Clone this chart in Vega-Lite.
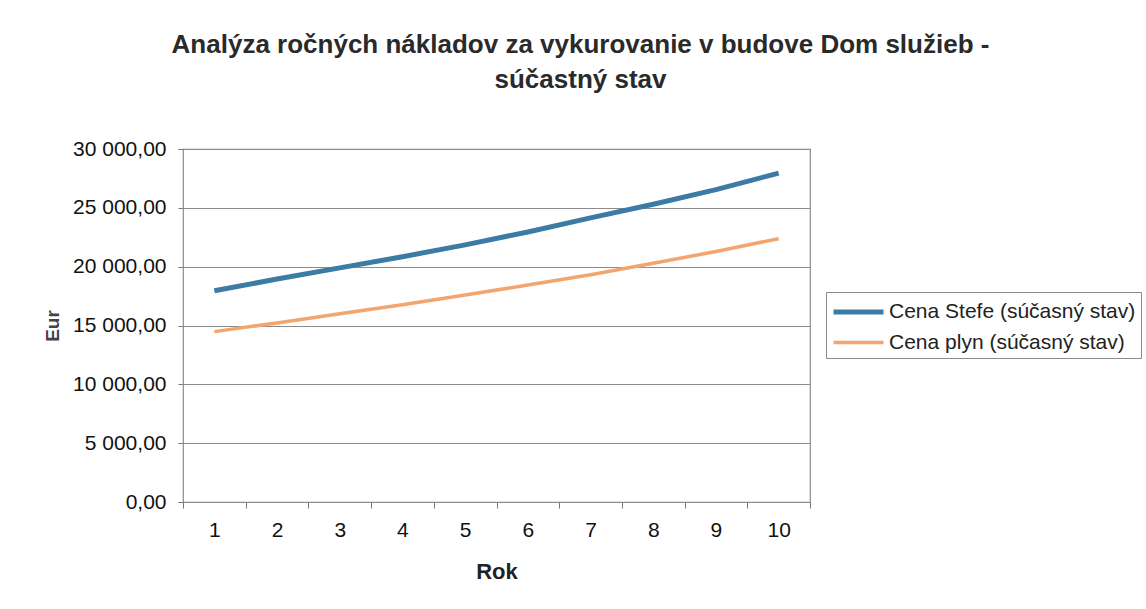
{
  "$schema": "https://vega.github.io/schema/vega-lite/v6.json",
  "width": 627,
  "height": 353,
  "autosize": {"type": "none"},
  "padding": {"left": 183, "top": 149, "right": 336, "bottom": 107},
  "background": "#ffffff",
  "title": {
    "text": ["Analýza ročných nákladov za vykurovanie v budove Dom služieb -", "súčastný stav"],
    "fontSize": 26,
    "fontWeight": "bold",
    "font": "Liberation Sans",
    "color": "#2a2a2a",
    "anchor": "middle",
    "dx": 84,
    "offset": 45,
    "lineHeight": 35
  },
  "data": {
    "values": [
      {"rok": 1, "seria": "Cena Stefe (súčasný stav)", "eur": 17950},
      {"rok": 2, "seria": "Cena Stefe (súčasný stav)", "eur": 18950},
      {"rok": 3, "seria": "Cena Stefe (súčasný stav)", "eur": 19900},
      {"rok": 4, "seria": "Cena Stefe (súčasný stav)", "eur": 20850},
      {"rok": 5, "seria": "Cena Stefe (súčasný stav)", "eur": 21850},
      {"rok": 6, "seria": "Cena Stefe (súčasný stav)", "eur": 22950},
      {"rok": 7, "seria": "Cena Stefe (súčasný stav)", "eur": 24150},
      {"rok": 8, "seria": "Cena Stefe (súčasný stav)", "eur": 25300},
      {"rok": 9, "seria": "Cena Stefe (súčasný stav)", "eur": 26550},
      {"rok": 10, "seria": "Cena Stefe (súčasný stav)", "eur": 27950},
      {"rok": 1, "seria": "Cena plyn (súčasný stav)", "eur": 14480},
      {"rok": 2, "seria": "Cena plyn (súčasný stav)", "eur": 15220},
      {"rok": 3, "seria": "Cena plyn (súčasný stav)", "eur": 15990},
      {"rok": 4, "seria": "Cena plyn (súčasný stav)", "eur": 16760},
      {"rok": 5, "seria": "Cena plyn (súčasný stav)", "eur": 17590},
      {"rok": 6, "seria": "Cena plyn (súčasný stav)", "eur": 18440},
      {"rok": 7, "seria": "Cena plyn (súčasný stav)", "eur": 19320},
      {"rok": 8, "seria": "Cena plyn (súčasný stav)", "eur": 20290},
      {"rok": 9, "seria": "Cena plyn (súčasný stav)", "eur": 21290},
      {"rok": 10, "seria": "Cena plyn (súčasný stav)", "eur": 22380}
    ]
  },
  "mark": {"type": "line", "strokeCap": "butt", "strokeJoin": "round"},
  "encoding": {
    "x": {
      "field": "rok",
      "type": "ordinal",
      "scale": {"paddingInner": 0, "paddingOuter": 0},
      "axis": {
        "title": "Rok",
        "labelAngle": 0,
        "tickBand": "extent",
        "tickSize": 6,
        "tickColor": "#777",
        "domain": false,
        "grid": false,
        "labelFontSize": 21,
        "labelPadding": 11,
        "labelColor": "#111",
        "titleFontSize": 22,
        "titlePadding": 21,
        "titleColor": "#222"
      }
    },
    "y": {
      "field": "eur",
      "type": "quantitative",
      "scale": {"domain": [0, 30000], "nice": false},
      "axis": {
        "title": "Eur",
        "values": [0, 5000, 10000, 15000, 20000, 25000, 30000],
        "format": ",.2f",
        "tickSize": 5,
        "tickColor": "#777",
        "domain": false,
        "grid": true,
        "gridColor": "#8c8c8c",
        "gridWidth": 1.2,
        "labelFontSize": 21,
        "labelPadding": 12,
        "labelColor": "#111",
        "titleFontSize": 19,
        "titlePadding": 10,
        "titleColor": "#444"
      }
    },
    "color": {
      "field": "seria",
      "type": "nominal",
      "scale": {"domain": ["Cena Stefe (súčasný stav)", "Cena plyn (súčasný stav)"], "range": ["#3b7ba4", "#f3a56e"]},
      "legend": {
        "title": null,
        "orient": "none",
        "legendX": 643,
        "legendY": 143,
        "padding": 5,
        "strokeColor": "#8c8c8c",
        "symbolType": "M-1,0H3",
        "symbolSize": 625,
        "labelFontSize": 21,
        "labelColor": "#222",
        "labelLimit": 400,
        "labelOffset": 28,
        "rowPadding": 6
      }
    },
    "strokeWidth": {
      "field": "seria",
      "type": "nominal",
      "scale": {"domain": ["Cena Stefe (súčasný stav)", "Cena plyn (súčasný stav)"], "range": [5, 3.5]},
      "legend": {
        "title": null,
        "orient": "none",
        "legendX": 643,
        "legendY": 143,
        "padding": 5,
        "strokeColor": "#8c8c8c",
        "symbolType": "M-1,0H3",
        "symbolSize": 625,
        "labelFontSize": 21,
        "labelColor": "#222",
        "labelLimit": 400,
        "labelOffset": 28,
        "rowPadding": 6
      }
    }
  },
  "config": {
    "font": "Liberation Sans",
    "locale": {"number": {"decimal": ",", "thousands": " ", "grouping": [3], "currency": ["", " €"]}},
    "view": {"stroke": "#8c8c8c", "strokeWidth": 1.2},
    "axis": {"titleFontWeight": "bold", "labelFont": "Liberation Sans", "titleFont": "Liberation Sans"}
  }
}
